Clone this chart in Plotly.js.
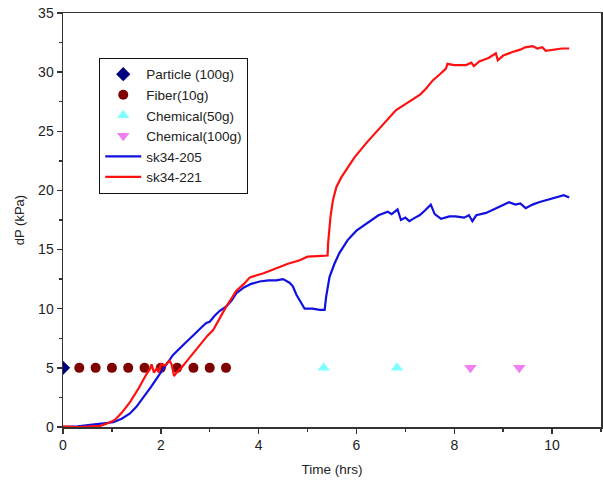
<!DOCTYPE html>
<html>
<head>
<meta charset="utf-8">
<script src="https://cdn.plot.ly/plotly-3.0.1.min.js"></script>
<style>html,body{margin:0;padding:0;background:#fff;}#chart{width:603px;height:482px;}</style>
</head>
<body>
<div id="chart"></div>
<script>
// Event markers
const particleX = [0];
const particleY = [5];
const fiberX = [0.333, 0.667, 1.0, 1.333, 1.667, 2.0, 2.333, 2.667, 3.0, 3.333];
const fiberY = [5, 5, 5, 5, 5, 5, 5, 5, 5, 5];
const chem50X = [5.33, 6.83];
const chem50Y = [5, 5];
const chem100X = [8.33, 9.33];
const chem100Y = [5, 5];

// sk34-205 (blue)
const blueX = [0,0.3,0.6,0.8,1.03,1.2,1.37,1.5,1.65,1.8,1.98,2.1,2.25,2.4,2.59,2.75,2.85,2.93,3.0,3.1,3.2,3.34,3.45,3.54,3.7,3.85,4.02,4.2,4.36,4.5,4.63,4.7,4.77,4.84,4.9,4.94,5.1,5.25,5.35,5.38,5.45,5.55,5.65,5.82,6.0,6.27,6.45,6.64,6.72,6.84,6.91,7.0,7.08,7.2,7.29,7.4,7.52,7.6,7.73,7.9,8.03,8.2,8.3,8.37,8.45,8.65,8.9,9.12,9.25,9.35,9.46,9.6,9.73,9.9,10.1,10.24,10.35];
const blueY = [0,0.05,0.2,0.3,0.4,0.7,1.15,1.7,2.5,3.4,4.5,5.2,6.1,6.7,7.5,8.1,8.5,8.8,8.9,9.4,9.8,10.2,10.7,11.3,11.8,12.1,12.3,12.4,12.4,12.5,12.2,11.9,11.2,10.7,10.2,10.0,10.0,9.9,9.9,11.0,12.7,13.8,14.7,15.8,16.6,17.4,17.9,18.2,18.0,18.4,17.5,17.7,17.4,17.7,17.9,18.3,18.8,18.0,17.6,17.8,17.8,17.7,17.9,17.4,17.9,18.1,18.6,19.0,18.8,18.9,18.5,18.8,19.0,19.2,19.4,19.6,19.4];

// sk34-221 (red)
const redX = [0,0.3,0.76,0.9,1.06,1.2,1.37,1.55,1.71,1.78,1.81,1.86,1.92,1.96,2.0,2.08,2.18,2.22,2.27,2.32,2.42,2.6,2.8,2.95,3.07,3.2,3.34,3.45,3.54,3.7,3.82,4.1,4.36,4.6,4.84,4.95,5.0,5.2,5.41,5.42,5.43,5.47,5.52,5.59,5.69,5.79,5.96,6.2,6.35,6.47,6.65,6.81,7.0,7.15,7.3,7.42,7.5,7.56,7.7,7.83,7.86,8.0,8.24,8.35,8.4,8.51,8.7,8.85,8.89,9.0,9.19,9.35,9.45,9.6,9.7,9.8,9.87,10.0,10.2,10.35];
const redY = [0.05,0.0,0.1,0.3,0.6,1.2,2.1,3.3,4.5,4.9,5.3,4.6,5.0,4.6,5.3,5.2,5.6,5.3,4.3,4.6,5.0,5.9,6.9,7.7,8.2,9.2,10.2,10.9,11.5,12.1,12.65,13.0,13.4,13.8,14.1,14.3,14.4,14.45,14.5,15.5,16.0,17.8,19.2,20.3,21.1,21.7,22.8,24.0,24.7,25.3,26.1,26.8,27.3,27.7,28.1,28.6,29.0,29.3,29.8,30.3,30.7,30.6,30.6,30.8,30.5,30.9,31.2,31.6,31.0,31.4,31.7,31.9,32.1,32.2,32.0,32.1,31.8,31.9,32.0,32.0];

const font = "Liberation Sans, Arial, sans-serif";

const traces = [
  {x: particleX, y: particleY, name: 'Particle (100g)', mode: 'markers', type: 'scatter',
   marker: {symbol: 'diamond', size: 11, color: '#000080'}},
  {x: fiberX, y: fiberY, name: 'Fiber(10g)', mode: 'markers', type: 'scatter',
   marker: {symbol: 'circle', size: 10, color: '#800000'}},
  {x: chem50X, y: chem50Y, name: 'Chemical(50g)', mode: 'markers', type: 'scatter',
   marker: {symbol: 'triangle-up', size: 11, color: '#80FFFF'}},
  {x: chem100X, y: chem100Y, name: 'Chemical(100g)', mode: 'markers', type: 'scatter',
   marker: {symbol: 'triangle-down', size: 11, color: '#F080F0'}},
  {x: blueX, y: blueY, name: 'sk34-205', mode: 'lines', type: 'scatter',
   line: {color: '#1010E0', width: 2.2}},
  {x: redX, y: redY, name: 'sk34-221', mode: 'lines', type: 'scatter',
   line: {color: '#FF1010', width: 2.2}}
];

const axisCommon = {
  showline: true, linecolor: '#333', linewidth: 1.5, mirror: true,
  ticks: 'outside', ticklen: 5, tickwidth: 1.5, tickcolor: '#333',
  showgrid: false, zeroline: false,
  tickfont: {family: font, size: 14, color: '#222'}
};

const layout = {
  width: 603, height: 482,
  margin: {l: 63, r: 2, t: 13, b: 55},
  paper_bgcolor: '#fff', plot_bgcolor: '#fff',
  showlegend: true,
  font: {family: font, color: '#222'},
  xaxis: Object.assign({}, axisCommon, {
    range: [0, 11], dtick: 2, tick0: 0,
    minor: {ticks: 'outside', dtick: 1, ticklen: 3, tickcolor: '#333', tickwidth: 1.5},
    title: {text: 'Time (hrs)', font: {family: font, size: 13.5, color: '#222'}, standoff: 12}
  }),
  yaxis: Object.assign({}, axisCommon, {
    range: [0, 35], dtick: 5, tick0: 0,
    minor: {ticks: 'outside', dtick: 2.5, ticklen: 3, tickcolor: '#333', tickwidth: 1.5},
    title: {text: 'dP (kPa)', font: {family: font, size: 13, color: '#222'}, standoff: 10}
  }),
  legend: {
    x: 0.067, y: 0.892, xanchor: 'left', yanchor: 'top',
    bgcolor: '#fff', bordercolor: '#111', borderwidth: 1.2,
    font: {family: font, size: 13.5, color: '#222'},
    itemwidth: 36, tracegroupgap: 0
  }
};

Plotly.newPlot('chart', traces, layout, {displayModeBar: false, staticPlot: true});
</script>
</body>
</html>
